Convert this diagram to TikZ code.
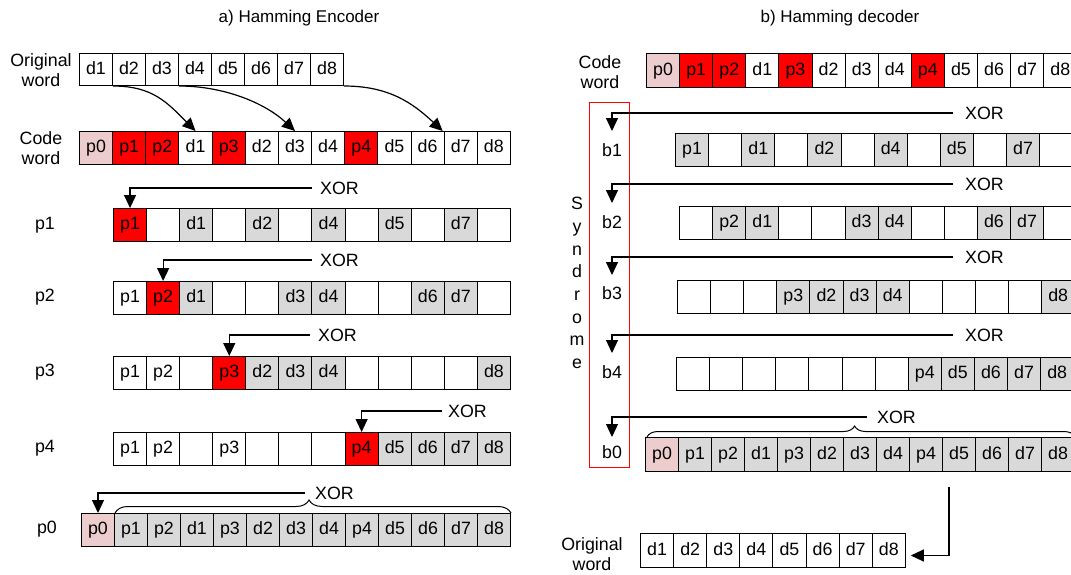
\documentclass[tikz,border=0pt]{standalone}
\usepackage{fontspec}
\setmainfont{Liberation Sans}
\usetikzlibrary{arrows.meta,decorations.pathreplacing}

\definecolor{cellgray}{RGB}{217,217,217}
\definecolor{cellpink}{RGB}{236,204,204}
\definecolor{cellred}{RGB}{255,0,0}

% one row of bit cells: name, left x, top y, cell width, cell height, {label/style,...}
\newcommand{\bitrow}[6]{%
  \foreach \lbl/\sty [count=\k] in {#6}{%
    \node[cell,\sty,minimum width=#4,minimum height=#5,anchor=north west]
      (#1\k) at ({#2+(\k-1)*#4},#3) {\lbl};
  }%
}

\tikzset{
  cell/.style={draw,line width=1pt,inner sep=0pt,text height=12.8pt,text depth=3.8pt},
  cW/.style={fill=white},
  cG/.style={fill=cellgray},
  cP/.style={fill=cellpink},
  cR/.style={fill=cellred},
  xarr/.style={line width=1.2pt,-{Triangle[width=12pt,length=13pt]}},
  xorlbl/.style={anchor=west,inner sep=0pt},
  lbl/.style={align=center,inner sep=0pt},
  hbrace/.style={decorate,line width=1pt},
}

\begin{document}
\begin{tikzpicture}[x=1pt,y=-1pt,font=\fontsize{17.8}{20.5}\selectfont]
\useasboundingbox (0,0) rectangle (1071,574);
\fill[white] (0,0) rectangle (1071,574);
\clip (0,0) rectangle (1071,574);

% ---------- titles ----------
\node[anchor=base,font=\fontsize{17}{20}\selectfont] (tenc) at (299,22.5) {a) Hamming Encoder};
\node[anchor=base,font=\fontsize{17}{20}\selectfont] (tdec) at (840,22.5) {b) Hamming decoder};

% ================= encoder =================
\node[lbl] (lowe) at (41,70) {Original\\word};
\node[lbl] (lcwe) at (41,148) {Code\\word};

\bitrow{ow}{79}{53}{33}{32}{d1/cW,d2/cW,d3/cW,d4/cW,d5/cW,d6/cW,d7/cW,d8/cW}
\bitrow{cw}{79}{131}{33.15}{33}{p0/cP,p1/cR,p2/cR,d1/cW,p3/cR,d2/cW,d3/cW,d4/cW,p4/cR,d5/cW,d6/cW,d7/cW,d8/cW}

% data bits moved into the code word
\draw[xarr] (ow1.south east) .. controls +(40,0) and +(-28,-28) .. (cw4.north);
\draw[xarr] (ow3.south east) .. controls +(45,0) and +(-30,-28) .. (cw7.north);
\draw[xarr] (ow8.south east) .. controls +(45,0) and +(-30,-28) .. ([xshift=-2pt]cw11.north east);

% parity rows
\node (lp1) at (45,225) {p1};
\node (lp2) at (45,297) {p2};
\node (lp3) at (45,372) {p3};
\node (lp4) at (45,448) {p4};
\node (lp0) at (47,529) {p0};

\bitrow{ra}{113}{208}{33.08}{33}{p1/cR,/cW,d1/cG,/cW,d2/cG,/cW,d4/cG,/cW,d5/cG,/cW,d7/cG,/cW}
\bitrow{rb}{113}{281}{33.08}{33}{p1/cW,p2/cR,d1/cG,/cW,/cW,d3/cG,d4/cG,/cW,/cW,d6/cG,d7/cG,/cW}
\bitrow{rc}{113}{356}{33.08}{33}{p1/cW,p2/cW,/cW,p3/cR,d2/cG,d3/cG,d4/cG,/cW,/cW,/cW,/cW,d8/cG}
\bitrow{rd}{113}{432}{33.08}{33}{p1/cW,p2/cW,/cW,p3/cW,/cW,/cW,/cW,p4/cR,d5/cG,d6/cG,d7/cG,d8/cG}
\bitrow{re}{81}{513}{33}{33}{p0/cP,p1/cG,p2/cG,d1/cG,p3/cG,d2/cG,d3/cG,d4/cG,p4/cG,d5/cG,d6/cG,d7/cG,d8/cG}

\node[xorlbl] (xa) at (320,188) {XOR};
\node[xorlbl] (xb) at (320,260) {XOR};
\node[xorlbl] (xc) at (318,335) {XOR};
\node[xorlbl] (xd) at (448,411) {XOR};
\node[xorlbl] (xe) at (315,493) {XOR};

\draw[xarr] ([xshift=-8pt]xa.west) -| (ra1.north);
\draw[xarr] ([xshift=-8pt]xb.west) -| (rb2.north);
\draw[xarr] ([xshift=-8pt]xc.west) -| (rc4.north);
\draw[xarr] ([xshift=-6pt]xd.west) -| (rd8.north);
\draw[xarr] ([xshift=-10pt]xe.west) -| (re1.north);

\draw[hbrace,decoration={brace,amplitude=13pt,aspect=0.49}]
  ([xshift=1pt]re2.north west) -- (re13.north east);

% ================= decoder =================
\node[lbl] (lcwd) at (600,72) {Code\\word};
\bitrow{dc}{646}{53}{33.1}{34}{p0/cP,p1/cR,p2/cR,d1/cW,p3/cR,d2/cW,d3/cW,d4/cW,p4/cR,d5/cW,d6/cW,d7/cW,d8/cW}

% syndrome column
\draw[red,line width=1pt] (589,102) rectangle (629,467);
\node[align=center,inner sep=0pt,font=\fontsize{17.8}{22.7}\selectfont] (syn) at (577,283)
  {S\\y\\n\\d\\r\\o\\m\\e};

\node (bl1) at (612,150) {b1};
\node (bl2) at (612,222) {b2};
\node (bl3) at (612,293) {b3};
\node (bl4) at (612,372) {b4};
\node (bl0) at (612,452) {b0};

\bitrow{sa}{675}{133}{33.1}{33}{p1/cG,/cW,d1/cG,/cW,d2/cG,/cW,d4/cG,/cW,d5/cG,/cW,d7/cG,/cW}
\bitrow{sb}{679}{206}{33.1}{33}{/cW,p2/cG,d1/cG,/cW,/cW,d3/cG,d4/cG,/cW,/cW,d6/cG,d7/cG,/cW}
\bitrow{sc}{677}{280}{33.1}{33}{/cW,/cW,/cW,p3/cG,d2/cG,d3/cG,d4/cG,/cW,/cW,/cW,/cW,d8/cG}
\bitrow{sd}{676}{357}{33.1}{33}{/cW,/cW,/cW,/cW,/cW,/cW,/cW,p4/cG,d5/cG,d6/cG,d7/cG,d8/cG}
\bitrow{se}{645}{437}{33}{34}{p0/cP,p1/cG,p2/cG,d1/cG,p3/cG,d2/cG,d3/cG,d4/cG,p4/cG,d5/cG,d6/cG,d7/cG,d8/cG}

\node[xorlbl] (ya) at (965,113) {XOR};
\node[xorlbl] (yb) at (965,184) {XOR};
\node[xorlbl] (yc) at (965,257) {XOR};
\node[xorlbl] (yd) at (965,335) {XOR};
\node[xorlbl] (ye) at (877,417) {XOR};

\coordinate (ta) at (612,131);
\coordinate (tb) at (612,203);
\coordinate (tc) at (612,275);
\coordinate (td) at (612,353);
\coordinate (te) at (612,437);

\draw[xarr] ([xshift=-12pt]ya.west) -| (ta);
\draw[xarr] ([xshift=-12pt]yb.west) -| (tb);
\draw[xarr] ([xshift=-12pt]yc.west) -| (tc);
\draw[xarr] ([xshift=-12pt]yd.west) -| (td);
\draw[xarr] ([xshift=-10pt]ye.west) -| (te);

\draw[hbrace,decoration={brace,amplitude=11pt,aspect=0.485}]
  ([xshift=2pt]se1.north west) -- (se13.north east);

% recovered data word
\node[lbl] (lowd) at (592,554) {Original\\word};
\bitrow{dw}{640}{533}{33.1}{34}{d1/cW,d2/cW,d3/cW,d4/cW,d5/cW,d6/cW,d7/cW,d8/cW}

\coordinate (dsrc) at (949,487);
\draw[xarr] (dsrc) |- ([xshift=5pt,yshift=-5pt]dw8.east);

\end{tikzpicture}
\end{document}
